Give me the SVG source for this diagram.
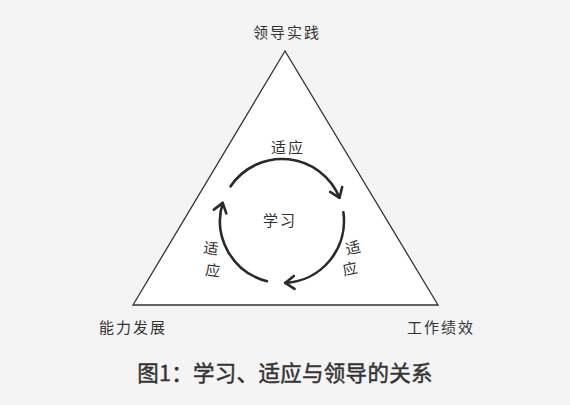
<svg xmlns="http://www.w3.org/2000/svg" width="570" height="405" viewBox="0 0 570 405">
<style>
.lbl{font-family:"Noto Sans CJK SC","Noto Sans",sans-serif;font-size:15px;fill:#333;text-anchor:middle;letter-spacing:2px}
.cap{font-family:"Noto Sans CJK SC","Noto Sans",sans-serif;font-size:21.5px;font-weight:400;fill:#333;stroke:#333;stroke-width:0.45px;text-anchor:middle;letter-spacing:0.3px}
.arc{fill:none;stroke:#2a2a2a;stroke-width:2.6;stroke-linecap:round}
</style>
<defs>
<marker id="ah" markerUnits="userSpaceOnUse" markerWidth="24" markerHeight="24" viewBox="-12 -12 24 24" refX="0" refY="0" orient="auto">
<path d="M-9,-6.5 L0,0 L-9,6.5" fill="none" stroke="#2a2a2a" stroke-width="2.6" stroke-linecap="round" stroke-linejoin="round"/>
</marker>
</defs>
<rect width="570" height="405" fill="#f4f4f4"/>
<g id="triangle">
<polygon points="285,51 133,305 438,305" fill="#ffffff" stroke="#333" stroke-width="1.3"/>
</g>
<g id="node-top"><text class="lbl" x="287" y="38">领导实践</text></g>
<g id="node-left"><text class="lbl" x="133" y="333">能力发展</text></g>
<g id="node-right"><text class="lbl" x="441" y="333">工作绩效</text></g>
<g id="node-center"><text class="lbl" x="280" y="226" font-size="14">学习</text></g>
<g id="connectors">
<path class="arc" d="M230.6,186.3 A62,62 0 0 1 339.5,197.8" marker-end="url(#ah)"/>
<path class="arc" d="M343.4,212.4 A62,62 0 0 1 285.2,282.9" marker-end="url(#ah)"/>
<path class="arc" d="M267.0,281.2 A62,62 0 0 1 222.7,202.9" marker-end="url(#ah)"/>
</g>
<g id="label-top"><text class="lbl" x="288" y="153">适应</text></g>
<g id="label-right">
<text class="lbl" x="354" y="253" transform="rotate(-12 354 248)">适</text>
<text class="lbl" x="351" y="274" transform="rotate(-12 351 269)">应</text>
</g>
<g id="label-left">
<text class="lbl" x="212" y="254" transform="rotate(8 212 249)">适</text>
<text class="lbl" x="214" y="276" transform="rotate(8 214 271)">应</text>
</g>
<g id="caption"><text class="cap" x="285" y="381">图1：学习、适应与领导的关系</text></g>
</svg>
